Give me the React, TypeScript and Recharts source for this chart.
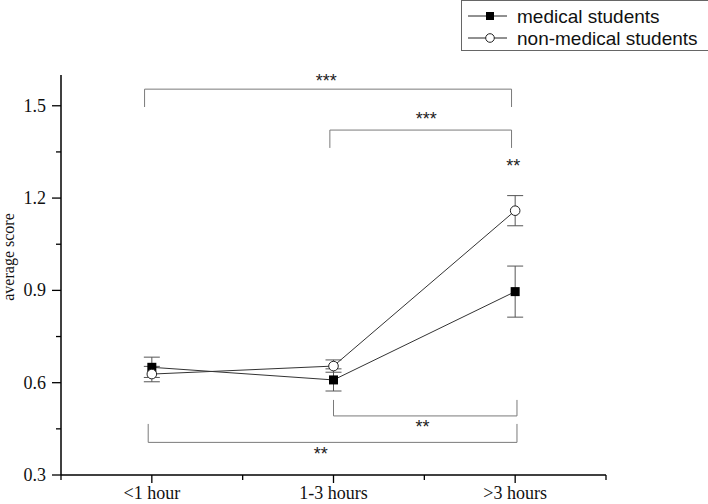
import React from 'react';
import { LineChart, Line, XAxis, YAxis, ErrorBar, ReferenceLine, ReferenceDot } from 'recharts';

const categories = ['<1 hour', '1-3 hours', '>3 hours'];
const categoryPos = [0.5, 1.5, 2.5];
const xTicks = [0, 0.5, 1, 1.5, 2, 2.5, 3];
const xDomain = [0, 3];
const medicalMean = [0.65, 0.609, 0.896];
const medicalErr = [0.033, 0.036, 0.083];
const nonMedicalMean = [0.628, 0.654, 1.159];
const nonMedicalErr = [0.025, 0.02, 0.049];
const seriesNames = ['medical students', 'non-medical students'];

const yTicks = [0.3, 0.45, 0.6, 0.75, 0.9, 1.05, 1.2, 1.35, 1.5];
const yDomain = [0.3, 1.6];

// significance brackets (x on the 0..3 category scale, y in score units)
const bracketX1 = [0.46, 1.48, 1.5, 0.48];
const bracketX2 = [2.48, 2.48, 2.51, 2.51];
const bracketLevel = [1.554, 1.421, 0.492, 0.406];
const bracketLeg = [1.496, 1.363, 0.544, 0.466];

const starText = ['***', '***', '**', '**', '**'];
const starX = [1.46, 2.01, 2.49, 1.99, 1.43];
const starY = [1.593, 1.47, 1.317, 0.469, 0.381];

const data = categories.map((c, i) => ({
  cat: c,
  pos: categoryPos[i],
  medical: medicalMean[i],
  medicalErr: medicalErr[i],
  nonMedical: nonMedicalMean[i],
  nonMedicalErr: nonMedicalErr[i],
}));

const SERIF = '"Liberation Serif", "Times New Roman", serif';
const SANS = '"Liberation Sans", Arial, sans-serif';

const YTick = (props: any) => {
  const { x, y, payload } = props;
  const v = payload.value as number;
  const major = Math.round(v * 100) % 30 === 0;
  return (
    <g>
      <line x1={x - (major ? 9 : 5)} x2={x} y1={y} y2={y} stroke="#000" strokeWidth={1.3} />
      {major && (
        <text x={x - 15} y={y} dy={6} textAnchor="end" fontFamily={SERIF} fontSize={18} fill="#111">
          {v.toFixed(1)}
        </text>
      )}
    </g>
  );
};

const XTick = (props: any) => {
  const { x, y, payload } = props;
  const v = payload.value as number;
  const idx = categoryPos.indexOf(v);
  const major = idx >= 0;
  return (
    <g>
      <line x1={x} x2={x} y1={y} y2={y + (major ? 8 : 5)} stroke="#000" strokeWidth={1.3} />
      {major && (
        <text x={x} y={y + 24} textAnchor="middle" fontFamily={SERIF} fontSize={18} fill="#111">
          {categories[idx]}
        </text>
      )}
    </g>
  );
};

const SquareDot = (props: any) => {
  const { cx, cy } = props;
  if (cx == null || cy == null) return null;
  return <rect x={cx - 4.5} y={cy - 4.5} width={9} height={9} fill="#000" />;
};

const CircleDot = (props: any) => {
  const { cx, cy } = props;
  if (cx == null || cy == null) return null;
  return <circle cx={cx} cy={cy} r={4.8} fill="#fff" stroke="#222" strokeWidth={1} />;
};

const YLabel = (props: any) => {
  const vb = props.viewBox || { x: 1, y: 75, width: 60, height: 400 };
  const cx = vb.x + 13;
  const cy = vb.y + vb.height / 2 - 18;
  return (
    <text
      x={cx}
      y={cy}
      transform={`rotate(-90, ${cx}, ${cy})`}
      textAnchor="middle"
      fontFamily={SERIF}
      fontSize={16}
      fill="#111"
    >
      average score
    </text>
  );
};

const StarShape = (text: string) => (props: any) => {
  const { cx, cy } = props;
  return (
    <text x={cx} y={cy} dy={10} textAnchor="middle" fontFamily={SANS} fontSize={18} fill="#222">
      {text}
    </text>
  );
};

export default function App() {
  const bracketSegments: any[] = [];
  bracketX1.forEach((x1, i) => {
    const x2 = bracketX2[i];
    const lv = bracketLevel[i];
    const lg = bracketLeg[i];
    bracketSegments.push(
      [{ x: x1, y: lv }, { x: x2, y: lv }],
      [{ x: x1, y: lv }, { x: x1, y: lg }],
      [{ x: x2, y: lv }, { x: x2, y: lg }]
    );
  });

  return (
    <div style={{ position: 'absolute', left: 0, top: 0, width: 708, height: 504, background: '#fff' }}>
      <LineChart width={708} height={504} data={data} margin={{ top: 75, right: 102, bottom: 0, left: 1 }}>
        <XAxis
          dataKey="pos"
          type="number"
          domain={xDomain}
          ticks={xTicks}
          allowDataOverflow
          height={29}
          axisLine={{ stroke: '#000', strokeWidth: 1.5 }}
          tickLine={false}
          tickSize={0}
          tickMargin={0}
          tick={<XTick />}
          interval={0}
        />
        <YAxis
          domain={yDomain}
          ticks={yTicks}
          type="number"
          allowDataOverflow
          width={60}
          axisLine={{ stroke: '#000', strokeWidth: 1.5 }}
          tickLine={false}
          tickSize={0}
          tickMargin={0}
          tick={<YTick />}
          interval={0}
          label={<YLabel />}
        />
        {bracketSegments.map((seg, i) => (
          <ReferenceLine
            key={'b' + i}
            segment={seg}
            stroke="#7a7a7a"
            strokeWidth={1}
            ifOverflow="visible"
          />
        ))}
        {starText.map((t, i) => (
          <ReferenceDot
            key={'s' + i}
            x={starX[i]}
            y={starY[i]}
            r={0}
            ifOverflow="visible"
            shape={StarShape(t)}
          />
        ))}
        <Line
          type="linear"
          dataKey="medical"
          name={seriesNames[0]}
          stroke="#333"
          strokeWidth={1}
          dot={<SquareDot />}
          activeDot={false}
          isAnimationActive={false}
        >
          <ErrorBar dataKey="medicalErr" width={8} stroke="#555" strokeWidth={1} direction="y" />
        </Line>
        <Line
          type="linear"
          dataKey="nonMedical"
          name={seriesNames[1]}
          stroke="#333"
          strokeWidth={1}
          dot={<CircleDot />}
          activeDot={false}
          isAnimationActive={false}
        >
          <ErrorBar dataKey="nonMedicalErr" width={8} stroke="#555" strokeWidth={1} direction="y" />
        </Line>
      </LineChart>
      <svg
        width={708}
        height={60}
        style={{ position: 'absolute', left: 0, top: 0, pointerEvents: 'none' }}
      >
        <rect x={461.5} y={0.5} width={260} height={50} fill="#fff" stroke="#666" strokeWidth={1} />
        {seriesNames.map((name, i) => {
          const cy = 16 + i * 22;
          return (
            <g key={name}>
              <line x1={468} x2={507} y1={cy} y2={cy} stroke="#222" strokeWidth={1} />
              {i === 0 ? (
                <rect x={486} y={cy - 4} width={8} height={8} fill="#000" />
              ) : (
                <circle cx={490} cy={cy} r={4.3} fill="#fff" stroke="#222" strokeWidth={1} />
              )}
              <text x={517} y={cy + 6.5} fontFamily={SANS} fontSize={19} fill="#111">
                {name}
              </text>
            </g>
          );
        })}
      </svg>
    </div>
  );
}
